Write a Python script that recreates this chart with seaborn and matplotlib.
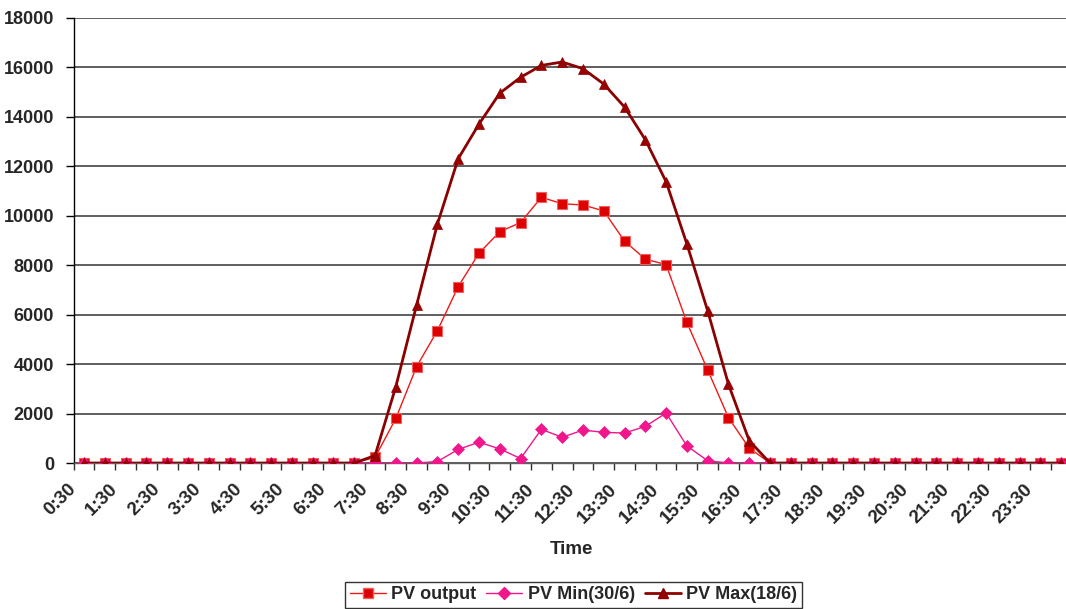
import numpy as np
import pandas as pd
import matplotlib
matplotlib.use("Agg")
import matplotlib.pyplot as plt
import matplotlib.transforms as mtransforms
from matplotlib.lines import Line2D
import seaborn as sns

# ---- data ----
times = [f"{h}:{m:02d}" for h in range(0, 25) for m in (0, 30)][1:49]  # 0:30 .. 24:00
pv_output = [0] * 14 + [230, 1800, 3900, 5350, 7130, 8480, 9350, 9720, 10740, 10480,
                        10430, 10190, 8970, 8240, 8020, 5680, 3760, 1830, 600] + [0] * 15
pv_min = [0] * 17 + [60, 550, 840, 570, 180, 1360, 1040, 1330, 1240, 1210, 1480, 2020,
                     690, 90] + [0] * 17
pv_max = [0] * 14 + [300, 3090, 6390, 9660, 12300, 13700, 14950, 15590, 16070, 16210,
                     15940, 15320, 14390, 13070, 11370, 8850, 6150, 3180, 900] + [0] * 15
series_names = ["PV output", "PV Min(30/6)", "PV Max(18/6)"]
y_ticks = list(range(0, 18001, 2000))

df = pd.DataFrame({"idx": np.arange(len(times)), "time": times,
                   "out": pv_output, "mn": pv_min, "mx": pv_max})

sns.set_theme(style="white")
plt.rcParams["font.family"] = ["Liberation Sans", "DejaVu Sans"]
plt.rcParams["font.weight"] = "bold"

fig = plt.figure(figsize=(10.66, 6.09), dpi=100)
W, H = 1066, 609
x0, x1 = 73.6, 1071.5
y0, y1 = 17.7, 463.0
ax = fig.add_axes([x0 / W, 1 - y1 / H, (x1 - x0) / W, (y1 - y0) / H])

c_out_line, c_out_face, c_out_edge = "#F01818", "#DD0000", "#F06060"
c_min = "#F0168C"
c_max = "#8B0000"

sns.lineplot(data=df, x="idx", y="out", ax=ax, color=c_out_line, lw=1.0,
             marker="s", markersize=7.5, markerfacecolor=c_out_face,
             markeredgecolor=c_out_edge, markeredgewidth=0.8, zorder=3)
sns.lineplot(data=df, x="idx", y="mn", ax=ax, color=c_min, lw=1.0,
             marker="D", markersize=6, markerfacecolor=c_min,
             markeredgecolor=c_min, markeredgewidth=0.5, zorder=4)
sns.lineplot(data=df, x="idx", y="mx", ax=ax, color=c_max, lw=2.0,
             marker="^", markersize=7.5, markerfacecolor="#990000",
             markeredgecolor=c_max, markeredgewidth=0.5, zorder=5)

n = len(times)
ax.set_xlim(-0.5, n - 0.5)
ax.set_ylim(0, 18000)
ax.set_yticks(y_ticks)
ax.set_yticklabels([str(v) for v in y_ticks], fontsize=13, fontweight="bold")
ax.yaxis.grid(True, color="#333333", lw=1.1)
ax.set_axisbelow(True)

# x ticks: labels every other category, tick marks between categories
lab_pos = list(range(0, n, 2))[:24]
ax.set_xticks(lab_pos)
ax.set_xticklabels([times[i] for i in lab_pos], fontsize=13.5, fontweight="bold",
                   rotation=45, ha="right", va="center", rotation_mode="anchor")
ax.set_xticks(np.arange(-0.5, n, 1.0), minor=True)
ax.tick_params(axis="x", which="major", length=0, pad=17)
ax.tick_params(axis="x", which="minor", length=5, width=1, color="#303030",
               direction="out", bottom=True)
ax.tick_params(axis="y", which="major", length=6, width=1, color="#000000",
               direction="out", left=True, pad=8)
offset = mtransforms.ScaledTranslation(-10 / 100, 0, fig.dpi_scale_trans)
for lbl in ax.get_xticklabels():
    lbl.set_transform(lbl.get_transform() + offset)

for s in ["top", "right"]:
    ax.spines[s].set_visible(False)
ax.spines["left"].set_color("#000000")
ax.spines["left"].set_linewidth(1.0)
ax.spines["bottom"].set_color("#606060")
ax.spines["bottom"].set_linewidth(1.0)

ax.set_ylabel("")
ax.set_xlabel("Time", fontsize=13.5, fontweight="bold")
ax.xaxis.set_label_coords((571 - x0) / (x1 - x0), -(550 - y1) / (y1 - y0))
ax.xaxis.label.set_va("center")

handles = [
    Line2D([], [], color=c_out_line, lw=1.0, marker="s", markersize=7.5,
           markerfacecolor=c_out_face, markeredgecolor=c_out_edge),
    Line2D([], [], color=c_min, lw=1.0, marker="D", markersize=6,
           markerfacecolor=c_min, markeredgecolor=c_min),
    Line2D([], [], color=c_max, lw=2.0, marker="^", markersize=7.5,
           markerfacecolor="#990000", markeredgecolor=c_max),
]
leg = fig.legend(handles, series_names, loc="center", ncol=3,
                 bbox_to_anchor=(573.4 / W, 1 - 594.7 / H),
                 prop={"size": 13, "weight": "bold"}, frameon=True, fancybox=False,
                 edgecolor="#000000", borderpad=0.25, handlelength=2.0,
                 handletextpad=0.3, columnspacing=0.55)
leg.get_frame().set_linewidth(1.0)

fig.savefig("out.png", dpi=100)
